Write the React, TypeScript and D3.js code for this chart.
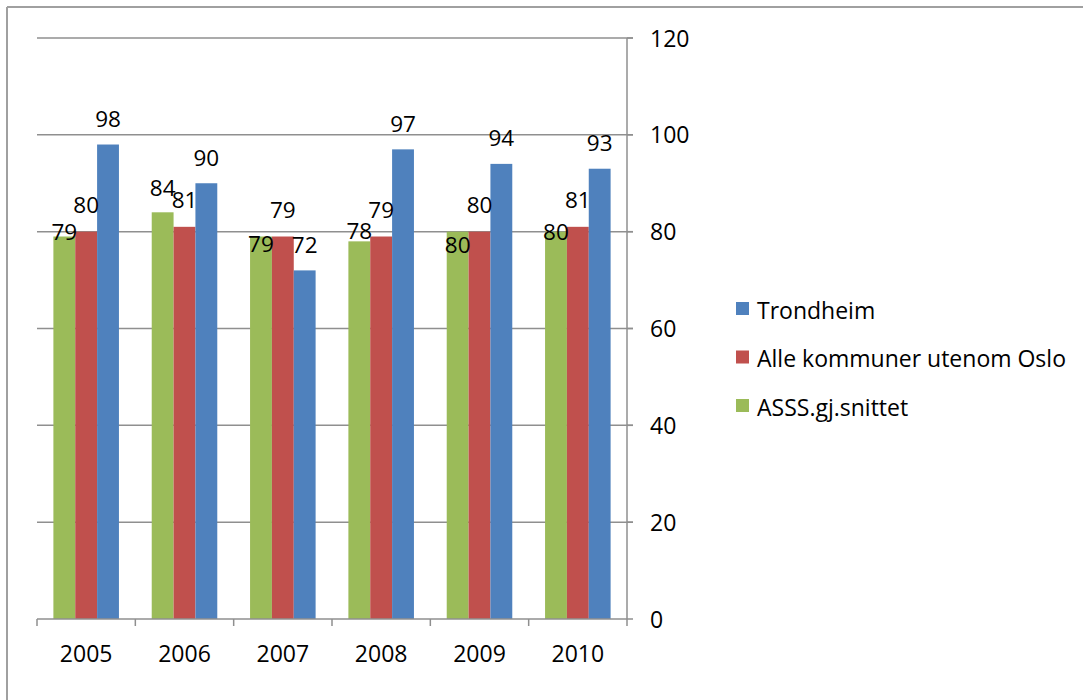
import React from 'react';
import * as d3 from 'd3';

const years = ['2005', '2006', '2007', '2008', '2009', '2010'];
const asssValues = [79, 84, 79, 78, 80, 80];
const alleValues = [80, 81, 79, 79, 80, 81];
const trondheimValues = [98, 90, 72, 97, 94, 93];
const yTicks = [0, 20, 40, 60, 80, 100, 120];

// where the data labels sit (gap from bar top to label baseline), the green ones were moved by hand in the original
const greenLabelLift = [-3.5, 16, -15.5, 2, -21, -8];

const series = [
  { name: 'ASSS.gj.snittet', values: asssValues, color: '#9BBB59' },
  { name: 'Alle kommuner utenom Oslo', values: alleValues, color: '#C0504D' },
  { name: 'Trondheim', values: trondheimValues, color: '#4F81BD' },
];

const W = 1083;
const H = 700;
const left = 37;
const right = 627;
const top = 38;
const bottom = 619;
const font = '"Open Sans", sans-serif';
const gridColor = '#8f8f8f';

const App: React.FC = () => {
  const x = d3.scaleBand<string>().domain(years).range([left, right]).padding(0);
  const inner = d3.scaleBand<string>()
    .domain(series.map(s => s.name))
    .range([0, x.bandwidth()])
    .paddingOuter(0.75)
    .paddingInner(0);
  const y = d3.scaleLinear().domain([0, 120]).range([bottom, top]);

  const labelLift = (si: number, i: number) => (si === 0 ? greenLabelLift[i] : si === 1 ? 18.5 : 17.5);

  // legend lists the series in reverse order
  const legend = [...series].reverse();

  return (
    <svg width={W} height={H} style={{ position: 'absolute', left: 0, top: 0, background: '#fff' }}>
      <rect x={0} y={0} width={W} height={H} fill="#fff" />
      {/* outer frame, only top and left edges are visible */}
      <line x1={7} y1={7} x2={W} y2={7} stroke="#a0a0a0" strokeWidth={2} />
      <line x1={7} y1={7} x2={7} y2={H} stroke="#a0a0a0" strokeWidth={2} />

      {yTicks.filter(t => t > 0).map(t => (
        <line key={t} x1={left} x2={right + 6} y1={y(t)} y2={y(t)} stroke={gridColor} strokeWidth={1.5} />
      ))}

      {series.map((s, si) => (
        <g key={s.name}>
          {s.values.map((v, i) => (
            <rect
              key={i}
              x={(x(years[i]) ?? 0) + (inner(s.name) ?? 0)}
              y={y(v)}
              width={inner.bandwidth()}
              height={y(0) - y(v)}
              fill={s.color}
            />
          ))}
        </g>
      ))}

      {series.map((s, si) => (
        <g key={s.name + '-lbl'}>
          {s.values.map((v, i) => (
            <text
              key={i}
              x={(x(years[i]) ?? 0) + (inner(s.name) ?? 0) + inner.bandwidth() / 2}
              y={y(v) - labelLift(si, i)}
              textAnchor="middle"
              fontFamily={font}
              fontSize={22.5}
              fill="#000"
            >
              {v}
            </text>
          ))}
        </g>
      ))}

      {/* x axis */}
      <line x1={left} x2={right} y1={bottom} y2={bottom} stroke={gridColor} strokeWidth={1.5} />
      {[...years.map(yr => x(yr) ?? 0), right].map((px, i) => (
        <line key={i} x1={px} x2={px} y1={bottom} y2={bottom + 7} stroke={gridColor} strokeWidth={1.5} />
      ))}
      {years.map(yr => (
        <text
          key={yr}
          x={(x(yr) ?? 0) + x.bandwidth() / 2}
          y={662}
          textAnchor="middle"
          fontFamily={font}
          fontSize={23}
          fill="#000"
        >
          {yr}
        </text>
      ))}

      {/* right y axis */}
      <line x1={right} x2={right} y1={top} y2={bottom} stroke={gridColor} strokeWidth={1.5} />
      {yTicks.map(t => (
        <g key={t}>
          <line x1={right} x2={right + 6} y1={y(t)} y2={y(t)} stroke={gridColor} strokeWidth={1.5} />
          <text x={650} y={y(t) + 8.5} fontFamily={font} fontSize={23} fill="#000">
            {t}
          </text>
        </g>
      ))}

      {/* legend */}
      {legend.map((s, i) => (
        <g key={s.name} transform={`translate(736, ${310 + i * 48.5})`}>
          <rect x={0} y={-8} width={13} height={13} fill={s.color} />
          <text x={21} y={8.5} fontFamily={font} fontSize={23} fill="#000">
            {s.name}
          </text>
        </g>
      ))}
    </svg>
  );
};

export default App;
